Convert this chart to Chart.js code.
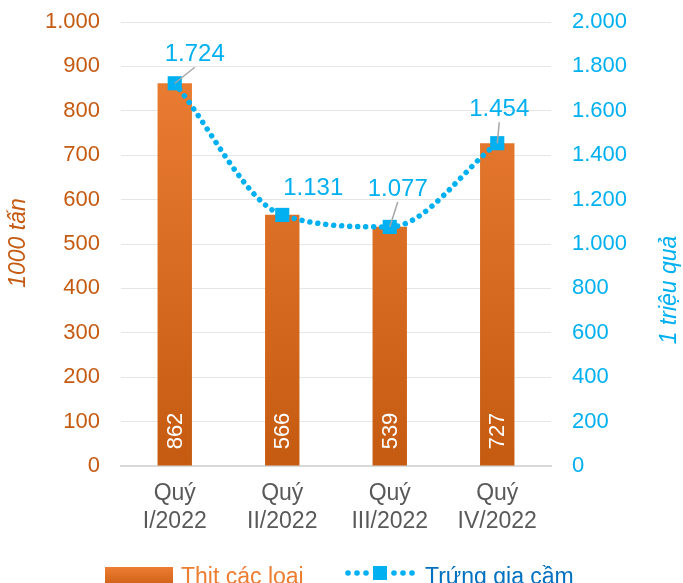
<!DOCTYPE html>
<html>
<head>
<meta charset="utf-8">
<script src="https://cdn.jsdelivr.net/npm/chart.js@4/dist/chart.umd.min.js"></script>
<style>
	body { margin: 0; background: #fff; }
	#wrap { width: 683px; height: 583px; overflow: hidden; }
</style>
</head>
<body>
<div id="wrap"><canvas id="chart" width="683" height="583"></canvas></div>
<script>
// data
var categories = [["Quý", "I/2022"], ["Quý", "II/2022"], ["Quý", "III/2022"], ["Quý", "IV/2022"]];
var thit = [862, 566, 539, 727];
var trung = [1724, 1131, 1077, 1454];
var leftTicks = [0, 100, 200, 300, 400, 500, 600, 700, 800, 900, 1000];
var rightTicks = [0, 200, 400, 600, 800, 1000, 1200, 1400, 1600, 1800, 2000];
var labelOffsets = [[20, -29], [31, -27], [8, -38], [2, -34]];

var FONT = "Arial, 'Liberation Sans', sans-serif";
var ORANGE = "#ED7D31";
var ORANGE_DARK = "#C55A11";
var BLUE = "#00B0F0";

function fmt(v) {
	return String(v).replace(/\B(?=(\d{3})+(?!\d))/g, ".");
}

function barGradient(ctx) {
	var area = ctx.chart.chartArea;
	if (!area) return ORANGE;
	var g = ctx.chart.ctx.createLinearGradient(0, area.top, 0, area.bottom);
	g.addColorStop(0, "#EE8136");
	g.addColorStop(1, "#C55A11");
	return g;
}

function fitY(w) {
	return function (s) {
		s.width = w;
		s.paddingTop = 0;
		s.paddingBottom = 0;
	};
}

var extras = {
	id: "extras",
	afterDatasetsDraw: function (chart) {
		var ctx = chart.ctx;
		ctx.save();
		// bar values
		var barMeta = chart.getDatasetMeta(1);
		ctx.fillStyle = "#fff";
		ctx.font = "22px " + FONT;
		ctx.textAlign = "center";
		ctx.textBaseline = "middle";
		barMeta.data.forEach(function (bar, i) {
			ctx.save();
			ctx.translate(bar.x, 431);
			ctx.rotate(-Math.PI / 2);
			ctx.fillText(thit[i], 0, 1);
			ctx.restore();
		});
		// line values with leader lines
		var lineMeta = chart.getDatasetMeta(0);
		lineMeta.data.forEach(function (pt, i) {
			var dx = labelOffsets[i][0], dy = labelOffsets[i][1];
			var lx = pt.x + dx, ly = pt.y + dy;
			if (i != 1) {
				ctx.strokeStyle = "#A6A6A6";
				ctx.lineWidth = 1.5;
				ctx.beginPath();
				ctx.moveTo(pt.x, pt.y);
				ctx.lineTo(lx, ly + 13);
				ctx.stroke();
			}
			ctx.fillStyle = BLUE;
			ctx.font = "24px " + FONT;
			ctx.fillText(fmt(trung[i]), lx, ly);
		});
		ctx.restore();
	},
	afterDraw: function (chart) {
		var ctx = chart.ctx;
		ctx.save();
		// axis titles
		ctx.font = "italic 23px " + FONT;
		ctx.textAlign = "center";
		ctx.textBaseline = "middle";
		ctx.fillStyle = ORANGE_DARK;
		ctx.save();
		ctx.translate(19, 243);
		ctx.rotate(-Math.PI / 2);
		ctx.fillText("1000 tấn", 0, 0);
		ctx.restore();
		ctx.fillStyle = BLUE;
		ctx.save();
		ctx.translate(670, 290);
		ctx.rotate(-Math.PI / 2);
		ctx.fillText("1 triệu quả", 0, 0);
		ctx.restore();

		// legend
		var g = ctx.createLinearGradient(0, 567, 0, 590);
		g.addColorStop(0, ORANGE);
		g.addColorStop(1, ORANGE_DARK);
		ctx.fillStyle = g;
		ctx.fillRect(105, 567, 68, 22);
		ctx.textAlign = "left";
		ctx.textBaseline = "alphabetic";
		ctx.font = "23px " + FONT;
		ctx.fillStyle = ORANGE;
		ctx.fillText(chart.data.datasets[1].label, 181, 584);

		ctx.fillStyle = BLUE;
		[348, 357, 366, 394, 403, 412].forEach(function (x) {
			ctx.beginPath();
			ctx.arc(x, 573, 2.8, 0, Math.PI * 2);
			ctx.fill();
		});
		ctx.fillRect(373, 566, 14, 14);
		ctx.fillStyle = "#0070C0";
		ctx.fillText(chart.data.datasets[0].label, 425, 584);
		ctx.restore();
	}
};

new Chart(document.getElementById("chart").getContext("2d"), {
	data: {
		labels: categories,
		datasets: [{
			type: "line",
			label: "Trứng gia cầm",
			data: trung,
			yAxisID: "y1",
			borderColor: BLUE,
			backgroundColor: BLUE,
			borderWidth: 5.5,
			borderDash: [0.01, 8],
			borderCapStyle: "round",
			cubicInterpolationMode: "monotone",
			pointStyle: "rect",
			pointRadius: 10,
			pointBorderWidth: 0,
			pointBackgroundColor: BLUE,
			order: 0
		}, {
			type: "bar",
			label: "Thit các loai",
			data: thit,
			yAxisID: "y",
			backgroundColor: barGradient,
			barPercentage: 0.64,
			categoryPercentage: 0.5,
			order: 1
		}]
	},
	options: {
		responsive: false,
		animation: false,
		layout: { padding: { top: 22, left: 0, right: 0, bottom: 0 } },
		plugins: {
			legend: { display: false },
			tooltip: { enabled: false }
		},
		scales: {
			x: {
				grid: { display: false },
				border: { display: true, color: "#D9D9D9", width: 2 },
				ticks: {
					color: "#595959",
					font: { family: FONT, size: 23, lineHeight: 1.22 },
					padding: 6,
					maxRotation: 0
				},
				afterFit: function (s) { s.height = 117; }
			},
			y: {
				position: "left",
				min: 0,
				max: 1000,
				afterBuildTicks: function (s) { s.ticks = leftTicks.map(function (v) { return { value: v }; }); },
				grid: { color: "#E6E6E6", lineWidth: 1, drawTicks: false },
				border: { display: false },
				ticks: {
					color: ORANGE_DARK,
					font: { family: FONT, size: 22 },
					padding: 21,
					callback: function (v) { return fmt(v); }
				},
				afterFit: fitY(121)
			},
			y1: {
				position: "right",
				min: 0,
				max: 2000,
				afterBuildTicks: function (s) { s.ticks = rightTicks.map(function (v) { return { value: v }; }); },
				grid: { drawOnChartArea: false, drawTicks: false },
				border: { display: false },
				ticks: {
					color: BLUE,
					font: { family: FONT, size: 22 },
					padding: 21,
					callback: function (v) { return fmt(v); }
				},
				afterFit: fitY(132)
			}
		}
	},
	plugins: [extras]
});
</script>
</body>
</html>
